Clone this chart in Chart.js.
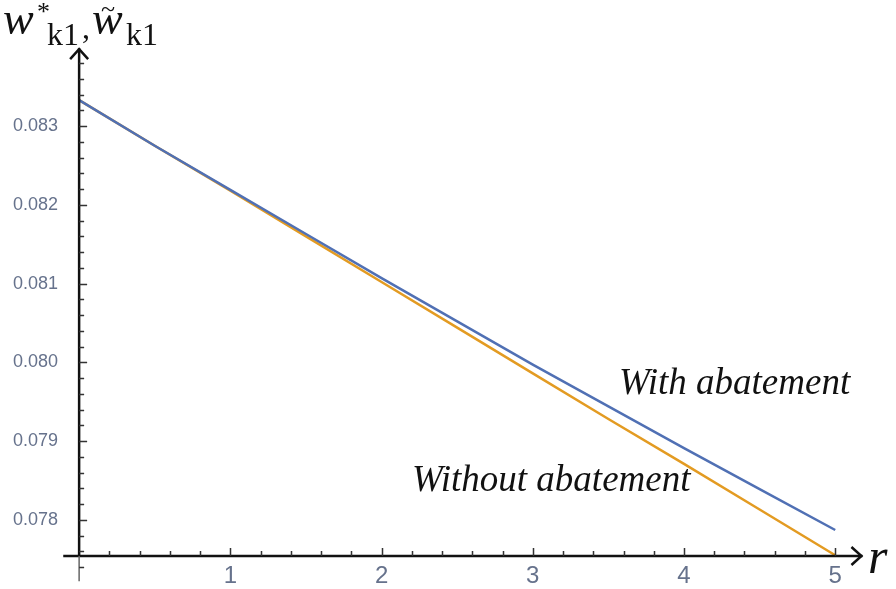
<!DOCTYPE html>
<html>
<head>
<meta charset="utf-8">
<script src="https://cdn.jsdelivr.net/npm/chart.js@4"></script>
<style>
  body { margin: 0; background: #fff; }
</style>
</head>
<body>
<canvas id="chart1" width="896" height="589"></canvas>
<script>
// data
var rValues = [0, 0.5, 1, 1.5, 2, 2.5, 3, 3.5, 4, 4.5, 5];
var withAbatement = [0.08333, 0.08275, 0.08219, 0.08163, 0.08107, 0.08052, 0.07997, 0.07944, 0.07891, 0.07839, 0.07787];
var withoutAbatement = [0.08333, 0.08275, 0.08218, 0.08160, 0.08102, 0.08044, 0.07986, 0.07928, 0.07871, 0.07813, 0.07755];
var xTicks = [1, 2, 3, 4, 5];
var yTicks = [0.078, 0.079, 0.080, 0.081, 0.082, 0.083];
var yCross = 0.07754; // where the r axis crosses

var blue = '#5070b4';
var orange = '#e39b22';
var labelGrey = '#66728c';

function pts(ys) {
  return rValues.map(function (r, i) { return { x: r, y: ys[i] }; });
}

// mathematica style axes: arrows, inner ticks, annotations
var mathAxes = {
  id: 'mathAxes',
  afterDraw: function (chart) {
    var ctx = chart.ctx;
    var x = chart.scales.x, y = chart.scales.y;
    var x0 = x.getPixelForValue(0);
    var yc = y.getPixelForValue(yCross);
    var yTop = y.getPixelForValue(0.08399);
    var xEnd = x.getPixelForValue(5.18);
    ctx.save();
    ctx.strokeStyle = '#111';
    ctx.lineWidth = 2.5;
    ctx.lineCap = 'butt';

    // y axis
    ctx.beginPath();
    ctx.moveTo(x0, yc);
    ctx.lineTo(x0, yTop);
    ctx.stroke();
    ctx.beginPath();
    ctx.moveTo(x0 - 9, yTop + 11);
    ctx.lineTo(x0, yTop + 1);
    ctx.lineTo(x0 + 9, yTop + 11);
    ctx.stroke();

    // x axis
    ctx.beginPath();
    ctx.moveTo(x.getPixelForValue(-0.105), yc);
    ctx.lineTo(xEnd, yc);
    ctx.stroke();
    ctx.beginPath();
    ctx.moveTo(xEnd - 11, yc - 9);
    ctx.lineTo(xEnd - 1, yc);
    ctx.lineTo(xEnd - 11, yc + 9);
    ctx.stroke();

    // y axis stub below the crossing
    ctx.strokeStyle = '#666';
    ctx.lineWidth = 1.5;
    ctx.beginPath();
    ctx.moveTo(x0, yc);
    ctx.lineTo(x0, y.getPixelForValue(0.07722));
    ctx.stroke();

    // ticks
    ctx.strokeStyle = '#333';
    ctx.lineWidth = 1.5;
    ctx.beginPath();
    for (var i = 387; i <= 419; i++) {
      var py = Math.round(y.getPixelForValue(i * 0.0002)) + 0.5;
      var len = (i % 5 === 0) ? 8 : 5;
      ctx.moveTo(x0, py);
      ctx.lineTo(x0 + len, py);
    }
    for (var j = 1; j <= 25; j++) {
      var px = Math.round(x.getPixelForValue(j * 0.2)) + 0.5;
      var l = (j % 5 === 0) ? 8 : 5;
      ctx.moveTo(px, yc);
      ctx.lineTo(px, yc - l);
    }
    ctx.stroke();

    // curve labels
    ctx.fillStyle = '#111';
    ctx.textAlign = 'left';
    ctx.textBaseline = 'alphabetic';
    ctx.font = 'italic 37px "Liberation Serif"';
    ctx.fillText('With abatement', 619, 394);
    ctx.fillText('Without abatement', 412, 491);

    // axis names
    ctx.font = 'italic 50px "Liberation Serif"';
    ctx.fillText('r', 868, 573);

    ctx.font = 'italic 46px "Liberation Serif"';
    ctx.fillText('w', 3, 34);
    ctx.fillText('w', 92, 34);
    ctx.font = '26px "Liberation Serif"';
    ctx.fillText('*', 37, 20);
    ctx.fillText('~', 101, 17);
    ctx.font = '32px "Liberation Serif"';
    ctx.fillText('k1', 47, 45);
    ctx.fillText(',', 82, 38);
    ctx.fillText('k1', 126, 45);
    ctx.restore();
  }
};

var graph = document.getElementById('chart1');

var myChart = new Chart(graph, {
  type: 'line',
  data: {
    datasets: [{
      label: 'With abatement',
      data: pts(withAbatement),
      borderColor: blue,
      borderWidth: 2.5,
      pointRadius: 0,
      fill: false,
      clip: false
    }, {
      label: 'Without abatement',
      data: pts(withoutAbatement),
      borderColor: orange,
      borderWidth: 2.5,
      pointRadius: 0,
      fill: false,
      clip: false
    }]
  },
  options: {
    responsive: false,
    animation: false,
    layout: { padding: { top: 45, right: 26, left: 0, bottom: 0 } },
    plugins: {
      legend: { display: false },
      tooltip: { enabled: false }
    },
    scales: {
      x: {
        type: 'linear',
        min: -0.1,
        max: 5.23,
        grid: { display: false, drawTicks: false },
        border: { display: false },
        afterBuildTicks: function (s) { s.ticks = xTicks.map(function (v) { return { value: v }; }); },
        afterFit: function (s) { s.height = 33; },
        ticks: {
          padding: 6,
          maxRotation: 0,
          color: labelGrey,
          font: { family: '"Liberation Sans"', size: 24 }
        }
      },
      y: {
        type: 'linear',
        min: yCross,
        max: 0.08403,
        grid: { display: false, drawTicks: false },
        border: { display: false },
        afterBuildTicks: function (s) { s.ticks = yTicks.map(function (v) { return { value: v }; }); },
        afterFit: function (s) { s.width = 64; },
        ticks: {
          padding: 6,
          color: labelGrey,
          font: { family: '"Liberation Sans"', size: 18 },
          callback: function (v) { return v.toFixed(3); }
        }
      }
    }
  },
  plugins: [mathAxes]
}); // ends the entire variable
</script>
</body>
</html>
